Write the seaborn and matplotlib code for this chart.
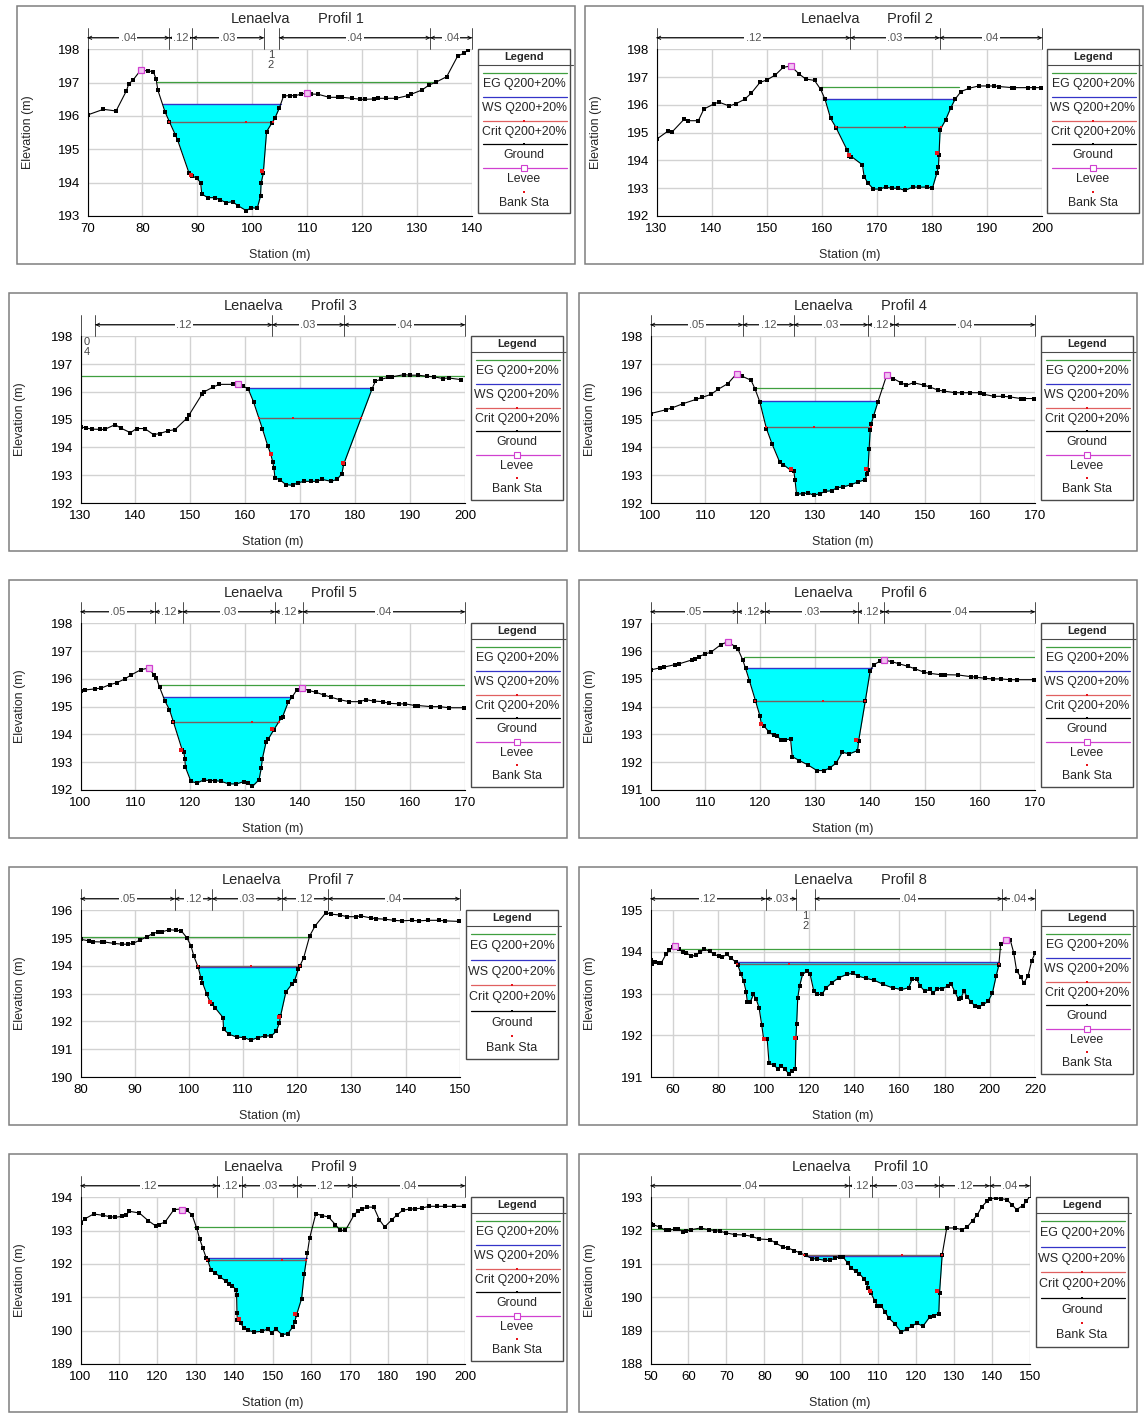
import numpy as np
import matplotlib
matplotlib.use('Agg')
import matplotlib.pyplot as plt
import matplotlib.transforms as mtransforms
from matplotlib.patches import Rectangle
from matplotlib.ticker import MultipleLocator, AutoMinorLocator
import seaborn as sns

RIVER = 'Lenaelva'
TITLES = ['Profil %d' % i for i in range(1, 11)]
LEGEND_FULL = ['EG Q200+20%', 'WS Q200+20%', 'Crit Q200+20%', 'Ground', 'Levee', 'Bank Sta']
LEGEND_NO_LEVEE = ['EG Q200+20%', 'WS Q200+20%', 'Crit Q200+20%', 'Ground', 'Bank Sta']

# Profil 1
P1_STA = [70.0, 72.9, 75.2, 77.1, 77.5, 78.3, 79.7, 81.0, 82.0, 82.5, 82.8, 84.1, 84.9, 86.0, 86.4,
          88.5, 89.1, 89.9, 90.6, 90.8, 91.9, 93.2, 94.2, 95.3, 96.4, 97.4, 98.9, 99.8, 100.9, 101.5,
          101.6, 102.0, 102.6, 103.6, 104.1, 104.9, 105.7, 106.8, 107.8, 108.8, 110.0, 110.7, 112.0,
          114.0, 115.6, 116.4, 118.2, 119.7, 120.5, 122.1, 122.9, 124.4, 126.2, 128.3, 128.9, 130.9,
          132.2, 133.4, 135.4, 137.4, 138.5, 139.3]
P1_ELEV = [196.03, 196.2, 196.15, 196.76, 196.96, 197.08, 197.38, 197.35, 197.33, 197.1, 196.78, 196.13,
           195.83, 195.43, 195.28, 194.28, 194.2, 194.13, 194.0, 193.66, 193.55, 193.55, 193.48, 193.4,
           193.43, 193.31, 193.16, 193.25, 193.23, 193.6, 193.98, 194.28, 195.53, 195.8, 195.93, 196.23,
           196.6, 196.61, 196.61, 196.65, 196.7, 196.66, 196.65, 196.56, 196.56, 196.56, 196.53, 196.5,
           196.5, 196.51, 196.53, 196.53, 196.53, 196.61, 196.65, 196.78, 196.93, 197.01, 197.18, 197.8,
           197.88, 197.98]
P1_EG, P1_EG_SPAN, P1_WS, P1_CRIT, P1_CRIT_MID = 197.03, (82.6, 133.5), 196.35, 195.83, 98.9
P1_LEVEE = [(79.7, 197.38), (110.0, 196.7)]
P1_BANK = [(88.8, 194.23), (101.8, 194.35)]
P1_NB = [70, 84.9, 89.1, 102.1, 104.9, 132.4, 140]
P1_NV = ['.04', '.12', '.03', None, '.04', '.04']
P1_NOTES = [(103.4, '1\n2')]

# Profil 2
P2_STA = [130.0, 132.1, 132.9, 135.0, 135.7, 137.6, 138.6, 140.4, 141.3, 143.2, 144.4, 146.0, 147.2,
          148.8, 150.1, 151.6, 153.0, 154.4, 155.9, 157.1, 158.7, 159.8, 160.6, 161.6, 162.6, 164.6,
          165.0, 165.4, 167.4, 167.7, 168.4, 169.4, 170.5, 171.6, 172.7, 173.9, 175.1, 176.5, 177.6,
          179.1, 180.1, 180.9, 181.2, 181.3, 181.5, 182.5, 183.4, 184.2, 185.3, 186.8, 188.5, 190.2,
          191.3, 192.2, 194.6, 195.0, 197.4, 198.5, 199.8]
P2_ELEV = [194.76, 195.06, 195.04, 195.48, 195.43, 195.43, 195.85, 196.03, 196.1, 195.96, 196.04, 196.2,
           196.42, 196.81, 196.9, 197.08, 197.35, 197.4, 197.11, 196.93, 196.88, 196.56, 196.2, 195.52,
           195.18, 194.38, 194.17, 194.14, 193.84, 193.42, 193.18, 192.97, 192.97, 193.04, 193.0, 193.0,
           192.92, 193.04, 193.04, 193.04, 193.0, 193.54, 193.78, 194.2, 195.1, 195.46, 195.88, 196.2,
           196.48, 196.6, 196.68, 196.68, 196.68, 196.66, 196.62, 196.62, 196.62, 196.62, 196.62]
P2_EG, P2_EG_SPAN, P2_WS, P2_CRIT, P2_CRIT_MID = 196.64, (159.8, 185.0), 196.2, 195.19, 175.1
P2_LEVEE = [(154.4, 197.4)]
P2_BANK = [(165.0, 194.2), (181.0, 194.25)]
P2_NB = [130, 165.2, 181.4, 200]
P2_NV = ['.12', '.03', '.04']
P2_NOTES = []

# Profil 3
P3_STA = [130.0, 131.0, 132.1, 133.6, 134.4, 136.3, 137.3, 139.1, 140.2, 141.7, 143.3, 144.4, 146.0,
          147.2, 149.3, 149.8, 152.2, 152.5, 154.2, 155.3, 157.7, 158.7, 159.6, 160.5, 161.5, 163.1,
          164.1, 164.6, 165.0, 165.2, 165.4, 166.4, 167.4, 168.6, 169.6, 170.7, 172.0, 173.0, 174.0,
          175.6, 176.7, 177.6, 177.9, 183.1, 183.7, 184.7, 186.0, 186.7, 188.9, 190.0, 191.5, 193.1,
          194.4, 196.0, 197.0, 199.3]
P3_ELEV = [194.74, 194.7, 194.66, 194.65, 194.65, 194.82, 194.7, 194.53, 194.68, 194.68, 194.46, 194.5,
           194.6, 194.64, 195.04, 195.18, 195.94, 196.0, 196.18, 196.27, 196.27, 196.3, 196.2, 196.12,
           195.64, 194.68, 194.05, 193.78, 193.48, 193.27, 192.91, 192.82, 192.66, 192.64, 192.73,
           192.78, 192.78, 192.78, 192.85, 192.78, 192.85, 193.06, 193.39, 196.12, 196.39, 196.45,
           196.52, 196.54, 196.62, 196.6, 196.6, 196.56, 196.54, 196.48, 196.5, 196.44]
P3_EG, P3_EG_SPAN, P3_WS, P3_CRIT, P3_CRIT_MID = 196.58, (130.0, 200.0), 196.15, 195.06, 168.7
P3_LEVEE = [(158.7, 196.3)]
P3_BANK = [(164.6, 193.78), (177.8, 193.45)]
P3_NB = [130, 132.7, 164.9, 178.0, 200]
P3_NV = [None, '.12', '.03', '.04']
P3_NOTES = [(131.2, '0\n4')]

# Profil 4
P4_STA = [100.0, 102.9, 104.0, 106.0, 108.3, 109.4, 111.0, 112.3, 114.1, 115.7, 116.7, 118.3, 119.0,
          119.9, 121.1, 122.1, 123.5, 124.2, 125.5, 126.1, 126.3, 126.6, 127.7, 128.7, 129.7, 130.9,
          131.8, 133.0, 133.9, 135.1, 136.5, 137.8, 139.1, 139.4, 139.6, 139.8, 140.0, 140.2, 140.6,
          141.4, 143.0, 144.2, 145.6, 146.6, 147.9, 149.8, 150.8, 152.4, 153.4, 155.4, 156.7, 158.2,
          160.0, 160.8, 162.5, 164.2, 165.4, 167.4, 168.0, 169.9]
P4_ELEV = [195.22, 195.36, 195.43, 195.58, 195.73, 195.8, 195.91, 196.09, 196.3, 196.66, 196.56, 196.42,
           196.12, 195.64, 194.68, 194.14, 193.48, 193.38, 193.18, 193.15, 192.84, 192.31, 192.34,
           192.36, 192.28, 192.34, 192.42, 192.44, 192.55, 192.58, 192.66, 192.76, 192.84, 193.06,
           193.18, 193.96, 194.62, 194.86, 195.13, 195.64, 196.6, 196.48, 196.33, 196.24, 196.33,
           196.24, 196.18, 196.06, 196.03, 195.97, 195.97, 195.97, 195.97, 195.91, 195.84, 195.84,
           195.82, 195.76, 195.76, 195.76]
P4_EG, P4_EG_SPAN, P4_WS, P4_CRIT, P4_CRIT_MID = 196.15, (118.6, 142.4), 195.66, 194.74, 129.7
P4_LEVEE = [(115.8, 196.66), (143.1, 196.6)]
P4_BANK = [(125.6, 193.21), (139.2, 193.21)]
P4_NB = [100, 116.8, 126.1, 139.6, 144.4, 170]
P4_NV = ['.05', '.12', '.03', '.12', '.04']
P4_NOTES = []

# Profil 5
P5_STA = [100.0, 100.8, 102.7, 103.8, 105.3, 106.6, 108.1, 109.2, 111.0, 112.4, 113.4, 113.8, 114.4,
          115.4, 116.2, 116.9, 118.5, 118.8, 119.0, 119.1, 120.1, 121.2, 122.4, 123.5, 124.4, 125.6,
          127.0, 128.4, 129.7, 130.5, 131.3, 132.5, 132.9, 133.1, 133.8, 134.2, 135.2, 136.5, 136.8,
          137.8, 138.5, 139.4, 140.4, 141.6, 142.8, 144.3, 145.6, 147.2, 148.9, 150.8, 152.0, 153.4,
          155.0, 156.2, 158.0, 159.1, 160.9, 161.5, 163.8, 165.4, 167.1, 169.8]
P5_ELEV = [195.58, 195.6, 195.64, 195.67, 195.79, 195.86, 196.0, 196.14, 196.33, 196.39, 196.14, 196.03,
           195.7, 195.19, 194.89, 194.46, 193.45, 193.38, 193.12, 192.82, 192.31, 192.25, 192.36,
           192.34, 192.34, 192.31, 192.22, 192.22, 192.3, 192.24, 192.13, 192.37, 192.78, 193.12,
           193.74, 193.84, 194.17, 194.58, 194.64, 195.16, 195.34, 195.61, 195.66, 195.58, 195.52,
           195.42, 195.34, 195.25, 195.18, 195.18, 195.25, 195.2, 195.18, 195.12, 195.1, 195.1, 195.04,
           195.04, 195.0, 195.0, 194.96, 194.96]
P5_EG, P5_EG_SPAN, P5_WS, P5_CRIT, P5_CRIT_MID = 195.78, (114.4, 170.0), 195.34, 194.46, 131.3
P5_LEVEE = [(112.5, 196.39), (140.4, 195.66)]
P5_BANK = [(118.3, 193.45), (134.8, 194.2)]
P5_NB = [100, 113.5, 118.6, 135.4, 140.5, 170]
P5_NV = ['.05', '.12', '.03', '.12', '.04']
P5_NOTES = []

# Profil 6
P6_STA = [100.0, 101.8, 102.4, 104.4, 105.2, 107.5, 108.1, 108.8, 110.0, 111.0, 112.8, 114.1, 115.4,
          115.9, 116.8, 117.3, 118.0, 119.1, 119.9, 120.2, 120.6, 121.6, 122.4, 123.0, 123.7, 124.5,
          125.5, 125.8, 127.1, 128.6, 130.3, 131.6, 132.6, 133.8, 134.9, 136.2, 137.7, 137.9, 139.1,
          140.0, 140.6, 141.7, 142.5, 143.9, 145.3, 146.9, 148.2, 149.8, 150.8, 152.8, 153.7, 156.0,
          158.3, 159.3, 160.9, 162.3, 163.8, 165.4, 166.7, 169.8]
P6_ELEV = [195.32, 195.4, 195.42, 195.51, 195.54, 195.68, 195.72, 195.8, 195.9, 195.96, 196.23, 196.34,
           196.16, 196.08, 195.68, 195.38, 194.94, 194.22, 193.68, 193.38, 193.32, 193.08, 192.98,
           192.96, 192.81, 192.8, 192.84, 192.2, 192.06, 191.91, 191.7, 191.7, 191.79, 191.97, 192.36,
           192.3, 192.42, 192.78, 194.2, 195.3, 195.5, 195.63, 195.68, 195.62, 195.54, 195.45, 195.36,
           195.24, 195.2, 195.15, 195.15, 195.14, 195.08, 195.06, 195.02, 195.0, 195.0, 194.97, 194.97,
           194.97]
P6_EG, P6_EG_SPAN, P6_WS, P6_CRIT, P6_CRIT_MID = 195.78, (117.0, 170.0), 195.38, 194.22, 131.4
P6_LEVEE = [(114.1, 196.34), (142.6, 195.68)]
P6_BANK = [(120.2, 193.36), (137.5, 192.8)]
P6_NB = [100, 115.8, 120.9, 137.7, 142.6, 170]
P6_NV = ['.05', '.12', '.03', '.12', '.04']
P6_NOTES = []

# Profil 7
P7_STA = [80.0, 81.5, 82.3, 83.9, 84.4, 86.1, 87.7, 88.7, 89.7, 90.9, 92.3, 93.3, 94.3, 95.1, 96.4,
          97.6, 98.6, 99.6, 100.4, 100.9, 101.7, 102.2, 102.5, 103.3, 103.9, 104.3, 104.8, 106.3,
          106.4, 107.4, 108.8, 110.1, 111.4, 112.8, 114.1, 115.2, 116.1, 116.7, 116.9, 117.9, 119.0,
          119.5, 120.2, 120.5, 121.2, 122.3, 123.3, 125.3, 126.3, 127.9, 129.2, 130.9, 131.7, 133.7,
          134.5, 136.2, 137.8, 139.3, 141.1, 142.4, 144.1, 146.2, 147.3, 149.8]
P7_ELEV = [194.96, 194.9, 194.87, 194.86, 194.86, 194.81, 194.78, 194.78, 194.81, 194.92, 195.05,
           195.16, 195.22, 195.23, 195.3, 195.28, 195.26, 195.02, 194.72, 194.36, 193.96, 193.58,
           193.4, 192.98, 192.71, 192.64, 192.5, 192.14, 191.72, 191.54, 191.44, 191.42, 191.33,
           191.42, 191.48, 191.48, 191.64, 191.94, 192.18, 193.06, 193.34, 193.46, 193.88, 194.0,
           194.3, 195.08, 195.44, 195.92, 195.86, 195.83, 195.77, 195.77, 195.8, 195.72, 195.7,
           195.68, 195.64, 195.62, 195.64, 195.62, 195.64, 195.64, 195.62, 195.6]
P7_EG, P7_EG_SPAN, P7_WS, P7_CRIT, P7_CRIT_MID = 195.05, (80.0, 122.3), 193.96, 194.0, 111.4
P7_LEVEE = []
P7_BANK = [(103.9, 192.71), (116.6, 192.17)]
P7_NB = [80, 97.4, 104.3, 117.2, 125.7, 150]
P7_NV = ['.05', '.12', '.03', '.12', '.04']
P7_NOTES = []

# Profil 8
P8_STA = [50.0, 50.8, 52.1, 53.6, 54.8, 56.8, 58.4, 60.0, 60.8, 62.7, 64.3, 65.9, 67.9, 70.1, 71.9,
          73.8, 76.2, 78.2, 80.1, 81.7, 83.8, 85.7, 87.6, 88.6, 90.1, 91.2, 92.3, 92.8, 94.1, 95.5,
          96.8, 98.0, 99.2, 100.0, 101.6, 102.4, 104.4, 106.4, 107.9, 109.5, 111.1, 112.4, 114.0,
          114.3, 114.6, 115.1, 115.9, 117.2, 119.1, 120.6, 122.2, 123.5, 125.7, 127.7, 130.1, 133.2,
          136.7, 139.5, 141.9, 145.1, 149.0, 153.0, 157.0, 160.9, 164.1, 165.6, 167.7, 169.3, 171.2,
          173.5, 175.1, 176.7, 179.0, 181.4, 183.0, 184.6, 186.2, 187.3, 188.5, 190.1, 191.7, 193.6,
          195.2, 197.2, 199.3, 201.2, 202.8, 204.0, 204.8, 207.0, 209.1, 210.6, 211.9, 213.8, 215.0,
          216.9, 218.5, 220.0]
P8_ELEV = [193.8, 193.72, 193.76, 193.73, 193.74, 193.94, 194.04, 194.12, 194.14, 194.06, 194.0,
           193.98, 193.9, 193.92, 194.0, 194.06, 194.02, 193.94, 193.9, 193.88, 193.94, 193.85, 193.76,
           193.68, 193.46, 193.3, 193.04, 192.8, 192.8, 192.98, 192.86, 192.66, 192.24, 191.92, 191.9,
           191.34, 191.28, 191.2, 191.26, 191.18, 191.08, 191.14, 191.18, 191.94, 192.26, 192.9,
           193.18, 193.46, 193.54, 193.46, 193.06, 192.98, 192.98, 193.14, 193.26, 193.38, 193.46,
           193.49, 193.42, 193.37, 193.32, 193.22, 193.14, 193.1, 193.14, 193.34, 193.34, 193.18,
           193.06, 193.1, 193.02, 193.12, 193.12, 193.18, 193.22, 193.04, 192.86, 192.9, 193.06,
           192.92, 192.8, 192.7, 192.69, 192.74, 192.82, 193.02, 193.42, 193.68, 194.18, 194.28,
           194.28, 193.98, 193.54, 193.4, 193.25, 193.42, 193.78, 193.97]
P8_EG, P8_EG_SPAN, P8_WS, P8_CRIT, P8_CRIT_MID = 194.06, (62.7, 204.8), 193.76, 193.70, 111.1
P8_LEVEE = [(60.8, 194.14), (207.0, 194.28)]
P8_BANK = [(100.4, 191.92), (113.8, 191.93)]
P8_NB = [50, 100.9, 114.5, 122.7, 205.5, 220]
P8_NV = ['.12', '.03', None, '.04', '.04']
P8_NOTES = [(118.6, '1\n2')]

# Profil 9
P9_STA = [100.0, 101.1, 103.4, 105.8, 107.6, 109.0, 110.9, 111.8, 112.7, 115.3, 117.6, 119.7, 120.3,
          122.0, 124.3, 126.2, 127.6, 129.0, 130.2, 131.0, 131.8, 132.7, 133.1, 133.9, 135.0, 136.4,
          137.8, 138.7, 139.5, 140.4, 140.6, 140.7, 140.8, 141.7, 142.4, 143.5, 145.2, 147.1, 148.7,
          149.7, 150.8, 152.4, 153.9, 155.2, 155.7, 156.2, 157.5, 158.2, 159.0, 159.6, 161.2, 162.9,
          164.5, 166.3, 167.5, 168.9, 171.2, 172.1, 173.3, 174.5, 176.3, 177.7, 179.1, 181.0, 182.4,
          183.8, 185.6, 187.0, 188.9, 190.7, 192.6, 194.9, 197.2, 199.8]
P9_ELEV = [193.23, 193.35, 193.5, 193.46, 193.42, 193.4, 193.43, 193.46, 193.58, 193.53, 193.3, 193.13,
           193.18, 193.26, 193.63, 193.65, 193.61, 193.48, 193.08, 192.75, 192.48, 192.18, 192.11,
           191.83, 191.73, 191.61, 191.48, 191.41, 191.35, 191.23, 191.08, 190.53, 190.33, 190.23,
           190.08, 190.01, 189.96, 189.98, 190.05, 189.93, 190.05, 189.88, 189.91, 190.11, 190.26,
           190.48, 190.96, 191.71, 192.33, 192.78, 193.51, 193.45, 193.41, 193.18, 193.01, 193.01,
           193.48, 193.58, 193.65, 193.71, 193.7, 193.33, 193.11, 193.33, 193.48, 193.61, 193.65,
           193.65, 193.68, 193.73, 193.73, 193.73, 193.73, 193.73]
P9_EG, P9_EG_SPAN, P9_WS, P9_CRIT, P9_CRIT_MID = 193.11, (129.6, 169.8), 192.18, 192.13, 152.5
P9_LEVEE = [(126.4, 193.63)]
P9_BANK = [(141.3, 190.35), (155.9, 190.51)]
P9_NB = [100, 135.6, 141.9, 156.4, 170.7, 200]
P9_NV = ['.12', '.12', '.03', '.12', '.04']
P9_NOTES = []

# Profil 10
P10_STA = [50.0, 50.7, 52.4, 54.0, 54.9, 56.5, 57.3, 58.7, 59.4, 60.8, 63.2, 65.3, 67.0, 68.4, 70.0,
           72.3, 74.7, 76.7, 78.6, 81.5, 83.0, 85.0, 86.3, 87.9, 89.5, 90.9, 92.6, 94.0, 95.9, 97.3,
           98.7, 99.9, 100.8, 102.0, 102.9, 104.1, 105.1, 106.2, 107.0, 107.3, 108.1, 109.2, 109.8,
           110.9, 111.9, 112.8, 114.4, 116.1, 117.5, 118.9, 120.2, 121.8, 123.6, 124.7, 126.0, 126.2,
           126.9, 128.1, 130.2, 132.1, 133.5, 134.9, 136.2, 137.3, 138.7, 139.6, 141.1, 142.5, 143.9,
           145.3, 146.5, 148.1, 149.1, 150.0]
P10_ELEV = [192.2, 192.18, 192.11, 192.01, 192.01, 192.05, 192.05, 191.96, 191.98, 192.03, 192.08,
            192.03, 192.0, 191.98, 191.93, 191.88, 191.87, 191.83, 191.75, 191.73, 191.63, 191.5,
            191.48, 191.4, 191.33, 191.26, 191.16, 191.15, 191.11, 191.11, 191.18, 191.21, 191.2,
            191.03, 190.88, 190.78, 190.71, 190.56, 190.43, 190.28, 190.13, 189.88, 189.75, 189.73,
            189.55, 189.38, 189.21, 188.95, 189.05, 189.13, 189.23, 189.13, 189.41, 189.45, 189.51,
            190.13, 191.28, 192.08, 192.08, 192.03, 192.11, 192.3, 192.48, 192.71, 192.88, 192.96,
            192.98, 192.96, 192.93, 192.78, 192.63, 192.75, 192.88, 193.03]
P10_EG, P10_EG_SPAN, P10_WS, P10_CRIT, P10_CRIT_MID = 192.05, (50.0, 128.1), 191.25, 191.28, 116.3
P10_LEVEE = []
P10_BANK = [(107.9, 190.2), (125.6, 190.2)]
P10_NB = [50, 102.4, 108.5, 126.1, 139.4, 150]
P10_NV = ['.04', '.12', '.03', '.12', '.04']
P10_NOTES = []

XLIMS = [(70, 140), (130, 200), (130, 200), (100, 170), (100, 170),
         (100, 170), (80, 150), (50, 220), (100, 200), (50, 150)]
YLIMS = [(193, 198), (192, 198), (192, 198), (192, 198), (192, 198),
         (191, 197), (190, 196), (191, 195), (189, 194), (188, 193)]
XSTEPS = [10, 10, 10, 10, 10, 10, 10, 20, 10, 10]

# ---------------- style ----------------
sns.set_theme(style='white')
plt.rcParams['font.family'] = ['Liberation Sans', 'DejaVu Sans']

C_EG = '#3f9f3f'
C_WS = '#3434c8'
C_CRIT = '#7a6060'
C_RED = '#e8141a'
C_LEVEE = '#d040d0'
C_WATER = '#00ffff'

W, H = 1146, 1416
fig = plt.figure(figsize=(W / 100, H / 100), dpi=100)
fig.patch.set_facecolor('white')


def fbox(x0, y0, x1, y1):
    return [x0 / W, 1 - y1 / H, (x1 - x0) / W, (y1 - y0) / H]


def wet_extent(sta, elev, level):
    i = int(np.argmin(elev))
    l = i
    while l > 0 and elev[l - 1] < level:
        l -= 1
    r = i
    while r < len(sta) - 1 and elev[r + 1] < level:
        r += 1
    x0 = np.interp(level, [elev[l], elev[l - 1]], [sta[l], sta[l - 1]]) if l > 0 else sta[0]
    x1 = np.interp(level, [elev[r], elev[r + 1]], [sta[r], sta[r + 1]]) if r < len(sta) - 1 else sta[-1]
    return x0, x1, l, r


def draw_legend(box, labels, fs):
    x0, y0, x1, y1 = box
    lax = fig.add_axes(fbox(x0, y0, x1, y1))
    lax.set_xlim(x0, x1)
    lax.set_ylim(y1, y0)
    lax.axis('off')
    lax.add_patch(Rectangle((x0, y0), x1 - x0, y1 - y0, fill=False, ec='#4a4a4a', lw=1.0, clip_on=False))
    lax.text((x0 + x1) / 2, y0 + 8, 'Legend', ha='center', va='center', fontsize=8, fontweight='bold')
    lax.plot([x0, x1 + 3], [y0 + 16, y0 + 16], color='#4a4a4a', lw=0.8, clip_on=False)
    sp = (y1 - y0 - 22) / len(labels)
    xm = (x0 + x1) / 2
    for k, lab in enumerate(labels):
        yl = y0 + 24 + sp * k
        if lab.startswith('EG'):
            lax.plot([x0 + 5, x1 - 3], [yl, yl], color=C_EG, lw=0.9)
        elif lab.startswith('WS'):
            lax.plot([x0 + 5, x1 - 3], [yl, yl], color=C_WS, lw=0.9)
        elif lab.startswith('Crit'):
            lax.plot([x0 + 5, x1 - 3], [yl, yl], color='#e06060', lw=0.9)
            lax.plot([xm], [yl], 's', color=C_RED, ms=1.8, mew=0)
        elif lab == 'Ground':
            lax.plot([x0 + 5, x1 - 3], [yl, yl], color='black', lw=0.9)
            lax.plot([xm], [yl], 's', color='black', ms=2, mew=0)
        elif lab == 'Levee':
            lax.plot([x0 + 5, x1 - 3], [yl, yl], color=C_LEVEE, lw=0.9)
            lax.plot([xm], [yl], 's', mfc='white', mec=C_LEVEE, ms=4, mew=0.8)
        else:
            lax.plot([xm], [yl], 's', color=C_RED, ms=2, mew=0)
        lax.text(xm, yl + sp * 0.47, lab, ha='center', va='center', fontsize=fs)


def draw_profile(k, sta, elev, eg, eg_span, ws, crit, crit_mid, levee, bank, nb, nv, notes,
                 frame, axbox, legbox, labels):
    sta = np.asarray(sta, float)
    elev = np.asarray(elev, float)
    fx0, fy0, fx1, fy1 = frame
    fig.patches.append(Rectangle((fx0 / W, 1 - fy1 / H), (fx1 - fx0) / W, (fy1 - fy0) / H,
                                 transform=fig.transFigure, fill=False, ec='#7f7f7f', lw=1.1))
    ax = fig.add_axes(fbox(*axbox))
    ax.set_facecolor('white')

    # water area under the water surface
    x0, x1, l, r = wet_extent(sta, elev, ws)
    xs = np.concatenate([[x0], sta[l:r + 1], [x1]])
    ys = np.concatenate([[ws], elev[l:r + 1], [ws]])
    ax.fill_between(xs, ys, ws, color=C_WATER, lw=0, zorder=1)

    ax.plot(eg_span, [eg, eg], color=C_EG, lw=0.9, zorder=2)
    ax.plot([x0, x1], [ws, ws], color=C_WS, lw=1.0, zorder=2)
    c0, c1, _, _ = wet_extent(sta, elev, crit)
    ax.plot([c0, c1], [crit, crit], color=C_CRIT, lw=1.0, zorder=2)
    ax.plot([c0, crit_mid, c1], [crit] * 3, 's', color=C_RED, ms=1.8, mew=0, zorder=4)

    sns.lineplot(x=sta, y=elev, ax=ax, color='black', lw=0.8, marker='s', markersize=2.6,
                 markeredgewidth=0, markerfacecolor='black', sort=False, estimator=None, zorder=3)
    if levee:
        ax.plot([p[0] for p in levee], [p[1] for p in levee], 's', mfc='#f2c6f2', mec=C_LEVEE,
                ms=4.5, mew=0.9, zorder=5)
    ax.plot([p[0] for p in bank], [p[1] for p in bank], 's', color=C_RED, ms=2.3, mew=0, zorder=5)

    ax.set_xlim(*XLIMS[k])
    ax.set_ylim(*YLIMS[k])
    ax.xaxis.set_major_locator(MultipleLocator(XSTEPS[k]))
    ax.xaxis.set_minor_locator(AutoMinorLocator(5))
    ax.yaxis.set_major_locator(MultipleLocator(1))
    ax.yaxis.set_minor_locator(AutoMinorLocator(10 if YLIMS[k][1] - YLIMS[k][0] < 6 else 5))
    ax.grid(True, which='major', color='#d2d2d2', lw=1.0)
    ax.set_axisbelow(True)
    for s in ['top', 'right']:
        ax.spines[s].set_visible(False)
    for s in ['left', 'bottom']:
        ax.spines[s].set_color('black')
        ax.spines[s].set_linewidth(0.8)
    ax.tick_params(which='both', direction='in', top=False, right=False, width=0.6, colors='black')
    ax.tick_params(which='major', length=4, labelsize=9.5, pad=5)
    ax.tick_params(which='minor', length=2.2)
    ax.set_xlabel('')
    ax.set_ylabel('')

    # Manning's n bands above the plot
    ah = axbox[3] - axbox[1]
    blend = mtransforms.blended_transform_factory(ax.transData, ax.transAxes)
    ya = 1 + 11.5 / ah
    for b in nb:
        ax.plot([b, b], [1.0, 1 + 21.5 / ah], transform=blend, color='#303030', lw=0.6, clip_on=False)
    for b0, b1, lab in zip(nb[:-1], nb[1:], nv):
        if lab is None:
            continue
        ax.annotate('', xy=(b1, ya), xytext=(b0, ya), xycoords=blend, textcoords=blend,
                    annotation_clip=False,
                    arrowprops=dict(arrowstyle='->', color='black', lw=0.6, shrinkA=0, shrinkB=0,
                                    mutation_scale=6))
        ax.annotate('', xy=(b0, ya), xytext=(b1, ya), xycoords=blend, textcoords=blend,
                    annotation_clip=False,
                    arrowprops=dict(arrowstyle='->', color='black', lw=0.6, shrinkA=0, shrinkB=0,
                                    mutation_scale=6))
        ax.text((b0 + b1) / 2, ya, lab, transform=blend, ha='center', va='center', fontsize=8,
                color='#555555', bbox=dict(fc='white', ec='none', pad=1.0), clip_on=False)
    for xn, txt in notes:
        ax.text(xn, 0.995, txt, transform=blend, ha='center', va='top', fontsize=8,
                color='#444444', linespacing=0.95)

    # titles and axis labels
    axc = (axbox[0] + axbox[2]) / 2
    fig.text((axc - 19) / W, 1 - (fy0 + 13) / H, RIVER, ha='center', va='center', fontsize=10.5)
    fig.text((axc + 61) / W, 1 - (fy0 + 13) / H, TITLES[k], ha='center', va='center', fontsize=10.5)
    fig.text(axc / W, 1 - (fy0 + 249) / H, 'Station (m)', ha='center', va='center', fontsize=9)
    fig.text((fx0 + 11) / W, 1 - ((axbox[1] + axbox[3]) / 2) / H, 'Elevation (m)', ha='center',
             va='center', rotation=90, fontsize=9)

    draw_legend(legbox, labels, 8.8 if len(labels) == 6 else 9.0)


# ---------------- layout ----------------
frames, axboxes, legboxes = [], [], []
frames += [(17, 6, 575, 264), (585, 6, 1143, 264)]
axboxes += [(87.5, 49.3, 472, 216), (656.5, 49.3, 1042, 216)]
legboxes += [(478, 49.3, 570, 213.3), (1047, 49.3, 1139, 213.3)]
for row in range(4):
    y0 = 293 + 287 * row
    frames += [(9, y0, 567, y0 + 258), (579, y0, 1137, y0 + 258)]
    right_l = 459.8 if row == 2 else 465
    right_r = 1029.8 if row == 3 else 1035
    axboxes += [(80.5, y0 + 43.3, right_l, y0 + 210), (650.5, y0 + 43.3, right_r, y0 + 210)]
    if row == 2:
        legboxes += [(466, y0 + 43.3, 558, y0 + 192.5), (1041, y0 + 43.3, 1133, y0 + 207)]
    elif row == 3:
        legboxes += [(471, y0 + 43.3, 563, y0 + 207), (1036, y0 + 43.3, 1128, y0 + 192.5)]
    else:
        legboxes += [(471, y0 + 43.3, 563, y0 + 207), (1041, y0 + 43.3, 1133, y0 + 207)]

profiles = [
    (P1_STA, P1_ELEV, P1_EG, P1_EG_SPAN, P1_WS, P1_CRIT, P1_CRIT_MID, P1_LEVEE, P1_BANK, P1_NB, P1_NV, P1_NOTES),
    (P2_STA, P2_ELEV, P2_EG, P2_EG_SPAN, P2_WS, P2_CRIT, P2_CRIT_MID, P2_LEVEE, P2_BANK, P2_NB, P2_NV, P2_NOTES),
    (P3_STA, P3_ELEV, P3_EG, P3_EG_SPAN, P3_WS, P3_CRIT, P3_CRIT_MID, P3_LEVEE, P3_BANK, P3_NB, P3_NV, P3_NOTES),
    (P4_STA, P4_ELEV, P4_EG, P4_EG_SPAN, P4_WS, P4_CRIT, P4_CRIT_MID, P4_LEVEE, P4_BANK, P4_NB, P4_NV, P4_NOTES),
    (P5_STA, P5_ELEV, P5_EG, P5_EG_SPAN, P5_WS, P5_CRIT, P5_CRIT_MID, P5_LEVEE, P5_BANK, P5_NB, P5_NV, P5_NOTES),
    (P6_STA, P6_ELEV, P6_EG, P6_EG_SPAN, P6_WS, P6_CRIT, P6_CRIT_MID, P6_LEVEE, P6_BANK, P6_NB, P6_NV, P6_NOTES),
    (P7_STA, P7_ELEV, P7_EG, P7_EG_SPAN, P7_WS, P7_CRIT, P7_CRIT_MID, P7_LEVEE, P7_BANK, P7_NB, P7_NV, P7_NOTES),
    (P8_STA, P8_ELEV, P8_EG, P8_EG_SPAN, P8_WS, P8_CRIT, P8_CRIT_MID, P8_LEVEE, P8_BANK, P8_NB, P8_NV, P8_NOTES),
    (P9_STA, P9_ELEV, P9_EG, P9_EG_SPAN, P9_WS, P9_CRIT, P9_CRIT_MID, P9_LEVEE, P9_BANK, P9_NB, P9_NV, P9_NOTES),
    (P10_STA, P10_ELEV, P10_EG, P10_EG_SPAN, P10_WS, P10_CRIT, P10_CRIT_MID, P10_LEVEE, P10_BANK, P10_NB, P10_NV, P10_NOTES),
]

for k, p in enumerate(profiles):
    labels = LEGEND_FULL if p[7] else LEGEND_NO_LEVEE
    draw_profile(k, *p, frames[k], axboxes[k], legboxes[k], labels)

fig.savefig('out.png', dpi=100, facecolor='white')
